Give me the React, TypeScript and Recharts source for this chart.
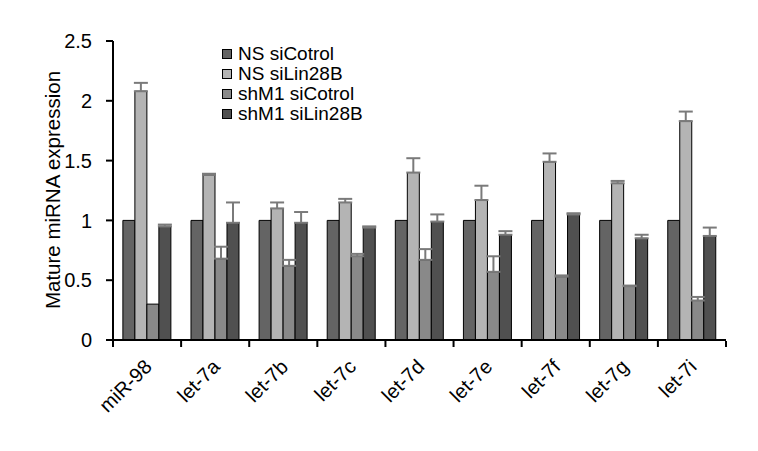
import { BarChart, Bar, XAxis, YAxis, ErrorBar, Legend, Label } from 'recharts';

const categories = ['miR-98', 'let-7a', 'let-7b', 'let-7c', 'let-7d', 'let-7e', 'let-7f', 'let-7g', 'let-7i'];
const seriesNames = ['NS siCotrol', 'NS siLin28B', 'shM1 siCotrol', 'shM1 siLin28B'];
const seriesColors = ['#646464', '#b4b4b4', '#898989', '#505050'];

const nsCtrl = [1, 1, 1, 1, 1, 1, 1, 1, 1];
const nsLin = [2.08, 1.38, 1.1, 1.15, 1.4, 1.17, 1.49, 1.31, 1.83];
const nsLinErr = [0.07, 0.01, 0.05, 0.03, 0.12, 0.12, 0.07, 0.02, 0.08];
const shCtrl = [0.3, 0.68, 0.62, 0.7, 0.67, 0.57, 0.53, 0.45, 0.33];
const shCtrlErr = [0, 0.1, 0.05, 0.02, 0.09, 0.13, 0.01, 0.005, 0.03];
const shLin = [0.95, 0.98, 0.98, 0.94, 0.99, 0.88, 1.05, 0.85, 0.87];
const shLinErr = [0.015, 0.17, 0.09, 0.01, 0.06, 0.03, 0.01, 0.03, 0.07];

const yTicks = [0, 0.5, 1, 1.5, 2, 2.5];
const edgeTicks = [0, 1, 2, 3, 4, 5, 6, 7, 8, 9];

// only the upper half of the error bar is drawn in the figure
const up = (e: number) => (e > 0 ? [0, e] : null);

const data = categories.map((name, i) => ({
  name,
  pos: i + 0.5,
  s0: nsCtrl[i],
  s1: nsLin[i],
  e1: up(nsLinErr[i]),
  s2: shCtrl[i],
  e2: up(shCtrlErr[i]),
  s3: shLin[i],
  e3: up(shLinErr[i]),
}));

const FONT = 'Arial, "Liberation Sans", sans-serif';

const CatTick = ({ x, y, payload }: any) => {
  const bx = x + 6;
  const by = y + 20;
  return (
    <text
      x={bx}
      y={by}
      transform={`rotate(-45, ${bx}, ${by})`}
      textAnchor="end"
      fontSize={20}
      fontFamily={FONT}
      fill="#000"
    >
      {payload.value}
    </text>
  );
};

const NoTick = () => <g />;

const LegendBox = () => (
  <div style={{ fontFamily: FONT, fontSize: 19, lineHeight: '20px', color: '#000' }}>
    {seriesNames.map((n, i) => (
      <div key={n} style={{ display: 'flex', alignItems: 'center', whiteSpace: 'nowrap' }}>
        <span
          style={{
            display: 'inline-block',
            width: 8,
            height: 8,
            background: seriesColors[i],
            border: '1px solid #000',
            marginRight: 6,
          }}
        />
        {n}
      </div>
    ))}
  </div>
);

const App = () => {
  return (
    <div style={{ position: 'absolute', left: 0, top: 0, background: '#fff' }}>
      <BarChart
        width={758}
        height={451}
        data={data}
        margin={{ top: 41, right: 32, left: 0, bottom: 0 }}
        barCategoryGap="14.5%"
        barGap={0}
      >
        <XAxis
          dataKey="name"
          height={1}
          axisLine={{ stroke: '#000', strokeWidth: 2 }}
          tickLine={false}
          interval={0}
          tick={<CatTick />}
        />
        {/* tick marks between the categories, stacked right under the category axis */}
        <XAxis
          xAxisId="edge"
          dataKey="pos"
          type="number"
          domain={[0, 9]}
          ticks={edgeTicks}
          interval={0}
          tick={<NoTick />}
          axisLine={false}
          tickLine={{ stroke: '#000', strokeWidth: 2 }}
          tickSize={6}
          height={110}
          allowDataOverflow
        />
        <YAxis
          width={113}
          domain={[0, 2.5]}
          ticks={yTicks}
          axisLine={{ stroke: '#000', strokeWidth: 2 }}
          tickLine={{ stroke: '#000', strokeWidth: 2 }}
          tickSize={7}
          tickMargin={14}
          tick={{ fontSize: 20, fontFamily: FONT, fill: '#000' }}
        >
          <Label
            content={() => (
              <text
                x={52}
                y={190}
                transform="rotate(-90, 52, 190)"
                textAnchor="middle"
                dominantBaseline="central"
                fontSize={20.5}
                fontFamily={FONT}
                fill="#000"
              >
                Mature miRNA expression
              </text>
            )}
          />
        </YAxis>
        <Legend
          layout="vertical"
          verticalAlign="middle"
          align="center"
          content={<LegendBox />}
          wrapperStyle={{ left: 222, top: 44, width: 'auto' }}
        />
        <Bar dataKey="s0" name={seriesNames[0]} fill={seriesColors[0]} stroke="#000" strokeWidth={1} isAnimationActive={false} />
        <Bar dataKey="s1" name={seriesNames[1]} fill={seriesColors[1]} stroke="#000" strokeWidth={1} isAnimationActive={false}>
          <ErrorBar dataKey="e1" direction="y" width={7} stroke="#7a7a7a" strokeWidth={2} />
        </Bar>
        <Bar dataKey="s2" name={seriesNames[2]} fill={seriesColors[2]} stroke="#000" strokeWidth={1} isAnimationActive={false}>
          <ErrorBar dataKey="e2" direction="y" width={7} stroke="#7a7a7a" strokeWidth={2} />
        </Bar>
        <Bar dataKey="s3" name={seriesNames[3]} fill={seriesColors[3]} stroke="#000" strokeWidth={1} isAnimationActive={false}>
          <ErrorBar dataKey="e3" direction="y" width={7} stroke="#7a7a7a" strokeWidth={2} />
        </Bar>
      </BarChart>
    </div>
  );
};

export default App;
